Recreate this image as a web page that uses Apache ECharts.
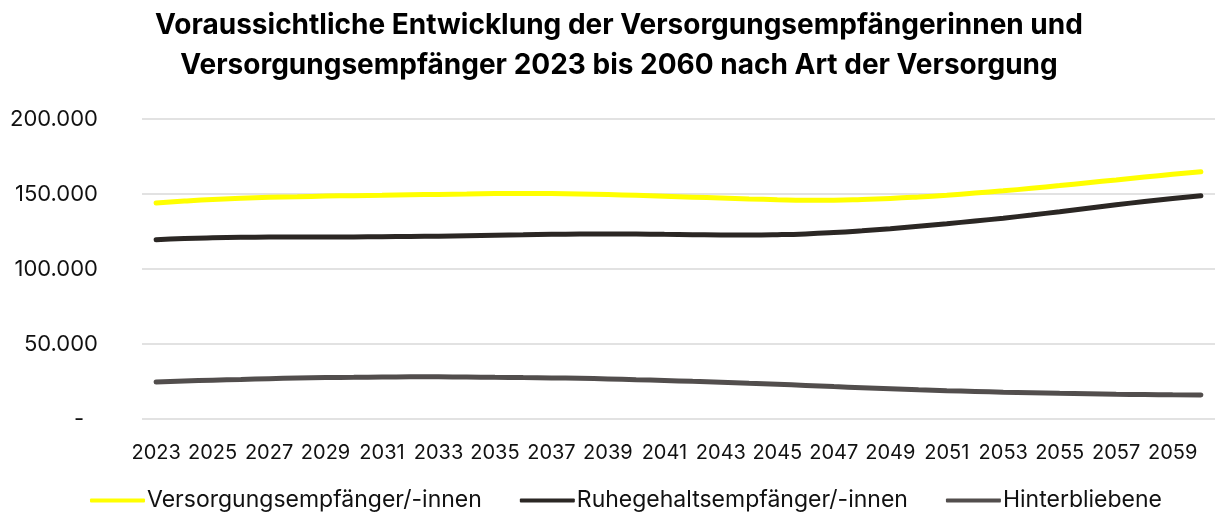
<!DOCTYPE html>
<html lang="de">
<head>
    <meta charset="utf-8">
    <title>Versorgungsempfänger 2023 bis 2060</title>
    <script src="https://cdn.jsdelivr.net/npm/echarts@6/dist/echarts.min.js"></script>
    <style>
        html, body { margin: 0; padding: 0; background: #fff; }
        #main { width: 1217px; height: 521px; }
    </style>
</head>
<body>
    <div id="main"></div>
    <script type="text/javascript">
        // Jahre 2023 .. 2060
        var years = ['2023', '2024', '2025', '2026', '2027', '2028', '2029', '2030', '2031', '2032',
            '2033', '2034', '2035', '2036', '2037', '2038', '2039', '2040', '2041', '2042',
            '2043', '2044', '2045', '2046', '2047', '2048', '2049', '2050', '2051', '2052',
            '2053', '2054', '2055', '2056', '2057', '2058', '2059', '2060'];

        // Werte (Personen)
        var versorgung = [144000, 145300, 146400, 147200, 147800, 148200, 148600, 148900, 149200, 149500,
            149700, 150000, 150300, 150400, 150300, 150000, 149600, 149100, 148500, 147900,
            147300, 146700, 146200, 145900, 145900, 146300, 147000, 148000, 149200, 150600,
            152100, 153800, 155600, 157500, 159400, 161300, 163100, 164800];
        var ruhegehalt = [119500, 120300, 120800, 121100, 121300, 121400, 121400, 121400, 121500, 121700,
            121900, 122200, 122500, 122800, 123100, 123300, 123400, 123300, 123100, 122900,
            122700, 122700, 122900, 123400, 124300, 125500, 126900, 128500, 130200, 132000,
            133900, 136000, 138200, 140500, 142800, 145000, 147000, 148800];
        var hinterbliebene = [24600, 25300, 25900, 26400, 26900, 27300, 27600, 27800, 28000, 28100,
            28100, 28000, 27800, 27600, 27400, 27100, 26700, 26200, 25700, 25100,
            24500, 23800, 23100, 22400, 21600, 20900, 20200, 19500, 18900, 18400,
            17900, 17500, 17100, 16800, 16500, 16300, 16100, 16000];

        var seriesNames = ['Versorgungsempfänger/-innen', 'Ruhegehaltsempfänger/-innen', 'Hinterbliebene'];
        var seriesColors = ['#ffff00', '#2b2724', '#524e4d'];

        // Buchhaltungsformat: Tausenderpunkt, Null als Strich
        function fmt(v) {
            if (v === 0) return '{z|-}';
            return String(v).replace(/\B(?=(\d{3})+(?!\d))/g, '.');
        }

        var myChart = echarts.init(document.getElementById('main'));
        var option = {
            animation: false,
            textStyle: { fontFamily: 'Inter, sans-serif' },
            title: {
                text: 'Voraussichtliche Entwicklung der Versorgungsempfängerinnen und\nVersorgungsempfänger 2023 bis 2060 nach Art der Versorgung',
                left: 614,
                textAlign: 'center',
                top: 1,
                textStyle: {
                    fontFamily: 'Inter, sans-serif',
                    fontSize: 28,
                    fontWeight: 'bold',
                    color: '#000',
                    lineHeight: 40
                }
            },
            legend: {
                bottom: 4,
                left: 85,
                itemWidth: 55,
                itemHeight: 4,
                itemGap: 38,
                icon: 'roundRect',
                textStyle: { fontSize: 23, color: '#111', padding: [0, 0, 0, -3] },
                data: seriesNames
            },
            grid: {
                left: 142,
                right: 2,
                top: 119,
                bottom: 102,
                containLabel: false
            },
            xAxis: {
                type: 'category',
                boundaryGap: true,
                data: years,
                axisLine: { show: false },
                axisTick: { show: false },
                axisLabel: {
                    interval: 1,
                    fontSize: 20,
                    color: '#111',
                    margin: 24
                }
            },
            yAxis: {
                type: 'value',
                min: 0,
                max: 200000,
                interval: 50000,
                axisLine: { show: false },
                axisTick: { show: false },
                axisLabel: {
                    fontSize: 22,
                    color: '#111',
                    margin: 44,
                    formatter: fmt,
                    rich: {
                        z: { fontSize: 22, color: '#111', padding: [0, 14, 0, 0] }
                    }
                },
                splitLine: { lineStyle: { color: '#d9d9d9', width: 1.5 } }
            },
            series: [
                {
                    name: seriesNames[0],
                    type: 'line',
                    smooth: true,
                    symbol: 'none',
                    data: versorgung,
                    lineStyle: { width: 5, color: seriesColors[0], cap: 'round' },
                    itemStyle: { color: seriesColors[0] }
                },
                {
                    name: seriesNames[1],
                    type: 'line',
                    smooth: true,
                    symbol: 'none',
                    data: ruhegehalt,
                    lineStyle: { width: 5, color: seriesColors[1], cap: 'round' },
                    itemStyle: { color: seriesColors[1] }
                },
                {
                    name: seriesNames[2],
                    type: 'line',
                    smooth: true,
                    symbol: 'none',
                    data: hinterbliebene,
                    lineStyle: { width: 5, color: seriesColors[2], cap: 'round' },
                    itemStyle: { color: seriesColors[2] }
                }
            ]
        };
        myChart.setOption(option);
    </script>
</body>
</html>
